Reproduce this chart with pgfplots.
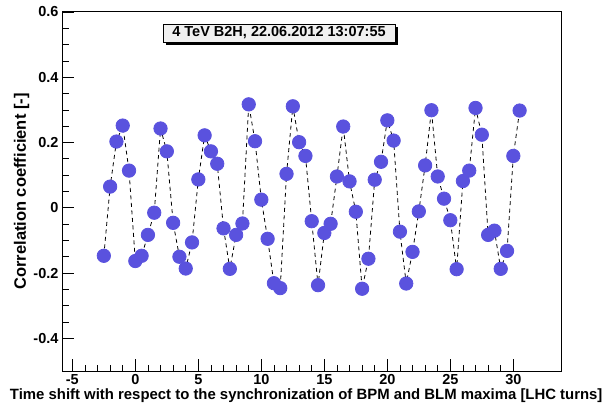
\documentclass[border=0pt]{standalone}
\usepackage{fontspec}
\setmainfont{Liberation Sans}
\usepackage{pgfplots}
\pgfplotsset{compat=1.18}
\definecolor{mk}{RGB}{90,82,222}
\definecolor{boxgray}{RGB}{240,240,240}
\begin{document}
\fontsize{13pt}{15pt}\selectfont\bfseries
\begin{tikzpicture}
\path[use as bounding box] (0,0) rectangle (609pt,404pt);
\begin{axis}[
  at={(62pt,33pt)}, anchor=south west,
  width=499.7pt, height=359pt, scale only axis,
  xmin=-5.82, xmax=33.84, ymin=-0.5, ymax=0.6,
  axis line style={line width=1pt},
  tick pos=left, tick align=inside,
  xtick={-5,0,5,10,15,20,25,30},
  xticklabels={-5,0,5,10,15,20,25,30},
  ytick={-0.4,-0.2,0,0.2,0.4,0.6},
  yticklabels={-0.4,-0.2,0,0.2,0.4,0.6},
  minor x tick num=4, minor y tick num=3,
  major tick length=12pt, minor tick length=6.5pt,
  every tick/.style={black, line width=0.8pt},
  tick label style={font=\fontsize{14.5pt}{16pt}\selectfont\bfseries},
  xticklabel style={yshift=1pt},
  yticklabel style={xshift=1pt},
  xlabel={Time shift with respect to the synchronization of BPM and BLM maxima [LHC turns]},
  ylabel={Correlation coefficient [-]},
  xlabel style={font=\fontsize{14.9pt}{16pt}\selectfont\bfseries, at={(axis description cs:1.0906,-0.0696)}, anchor=east},
  ylabel style={font=\fontsize{16.5pt}{18pt}\selectfont\bfseries, at={(axis description cs:-0.081,0.5)}, anchor=center},
  clip=false,
]
\addplot[black, line width=0.8pt, dash pattern=on 4pt off 3.5pt,
  mark=*, mark size=6.7pt, mark options={solid, fill=mk, draw=mk}]
coordinates {
(-2.5,-0.147) (-2,0.065) (-1.5,0.203) (-1,0.252) (-0.5,0.114)
(0,-0.163) (0.5,-0.147) (1,-0.083) (1.5,-0.015) (2,0.243) (2.5,0.173)
(3,-0.046) (3.5,-0.150) (4,-0.186) (4.5,-0.106) (5,0.087) (5.5,0.222)
(6,0.173) (6.5,0.135) (7,-0.063) (7.5,-0.187) (8,-0.083) (8.5,-0.048)
(9,0.317) (9.5,0.204) (10,0.025) (10.5,-0.095) (11,-0.231) (11.5,-0.246)
(12,0.104) (12.5,0.311) (13,0.201) (13.5,0.159) (14,-0.041) (14.5,-0.237)
(15,-0.077) (15.5,-0.049) (16,0.096) (16.5,0.249) (17,0.081) (17.5,-0.012)
(18,-0.248) (18.5,-0.156) (19,0.086) (19.5,0.141) (20,0.268) (20.5,0.206)
(21,-0.073) (21.5,-0.232) (22,-0.135) (22.5,-0.011) (23,0.130) (23.5,0.299)
(24,0.096) (24.5,0.028) (25,-0.038) (25.5,-0.188) (26,0.082) (26.5,0.114)
(27,0.306) (27.5,0.224) (28,-0.083) (28.5,-0.070) (29,-0.187) (29.5,-0.132)
(30,0.159) (30.5,0.298)
};
\end{axis}
\node[fill=black, minimum width=232pt, minimum height=18pt, inner sep=0pt] at (282pt,368pt) {};
\node[fill=boxgray, draw=black, line width=0.8pt, minimum width=232pt, minimum height=18pt, inner sep=0pt] at (279pt,371pt) {\fontsize{14.5pt}{16pt}\selectfont\bfseries 4 TeV B2H, 22.06.2012 13:07:55};
\end{tikzpicture}
\end{document}
